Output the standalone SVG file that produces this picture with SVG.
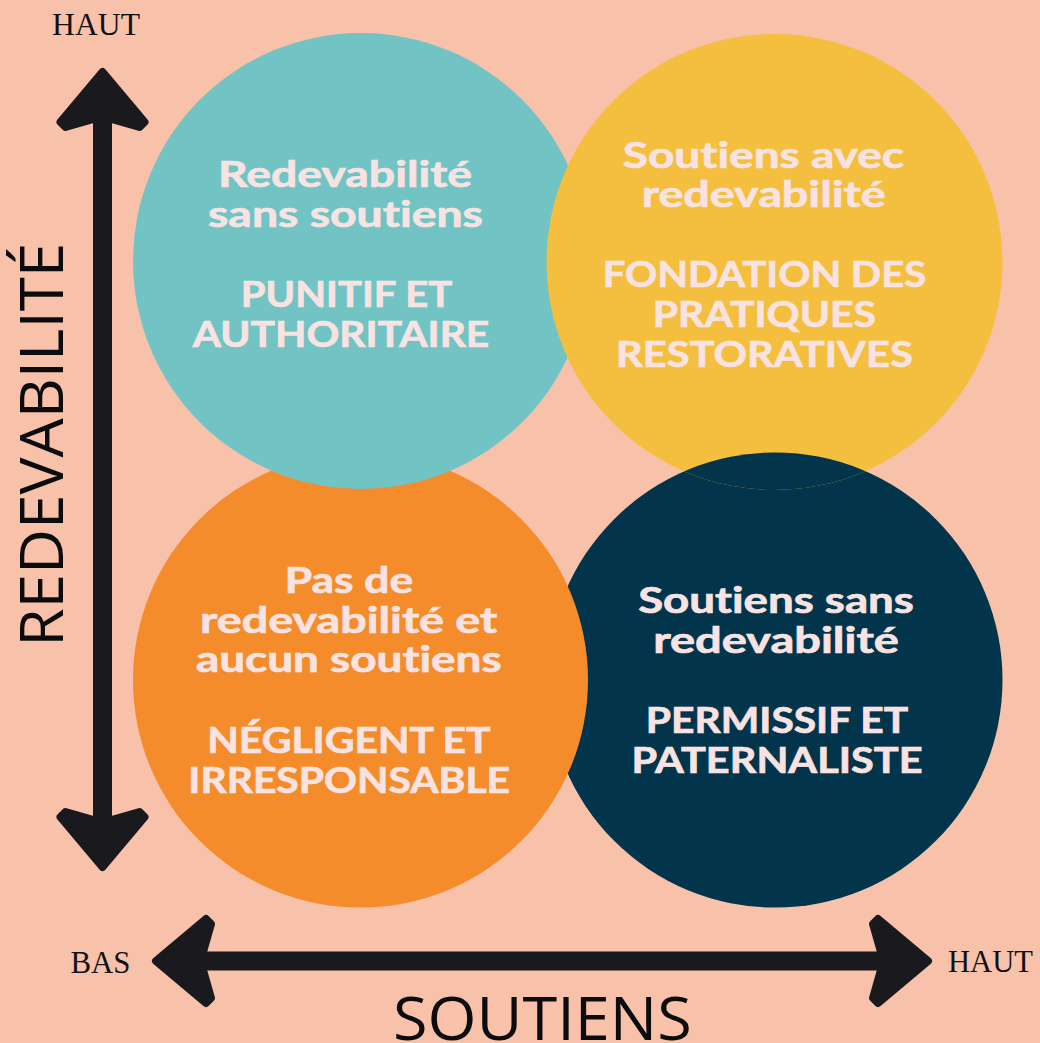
<svg xmlns="http://www.w3.org/2000/svg" width="1040" height="1043" viewBox="0 0 1040 1043">
  <style>
    .lbl { font-family: Lato, "Noto Sans", "DejaVu Sans", sans-serif; font-weight: 700; font-size: 35.5px; fill: #F8E3E2; stroke: #F8E3E2; stroke-width: 0.7px; text-anchor: middle; font-variant-ligatures: none; }
    .serif { font-family: "Liberation Serif", "DejaVu Serif", serif; font-size: 32px; fill: #111114; }
    .axis { font-family: "Open Sans", "Noto Sans", sans-serif; font-size: 60px; fill: #0c0c0e; }
    .arrow { fill: #1a1a1e; stroke: #1a1a1e; stroke-width: 8; stroke-linejoin: round; }
  </style>
  <defs>
    <clipPath id="clipYellow">
      <circle cx="774.5" cy="262" r="228"/>
    </clipPath>
  </defs>
  <rect width="1040" height="1043" fill="#F8C1A9"/>

  <g id="node-navy">
    <circle cx="775" cy="680" r="227.5" fill="#02344B"/>
    <text class="lbl" x="776" y="612.7" textLength="275.7" lengthAdjust="spacingAndGlyphs">Soutiens sans</text>
    <text class="lbl" x="776" y="652.7" textLength="245.7" lengthAdjust="spacingAndGlyphs">redevabilité</text>
    <text class="lbl" x="777" y="732.7" textLength="262.3" lengthAdjust="spacingAndGlyphs">PERMISSIF ET</text>
    <text class="lbl" x="777" y="772.7" textLength="291" lengthAdjust="spacingAndGlyphs">PATERNALISTE</text>
  </g>

  <g id="node-orange">
    <circle cx="360.5" cy="680" r="227.5" fill="#F48C2C"/>
    <text class="lbl" x="349" y="592.7" textLength="128.3" lengthAdjust="spacingAndGlyphs">Pas de</text>
    <text class="lbl" x="348.7" y="633.3" textLength="297.3" lengthAdjust="spacingAndGlyphs">redevabilité et</text>
    <text class="lbl" x="348.8" y="672.3" textLength="305.7" lengthAdjust="spacingAndGlyphs">aucun soutiens</text>
    <text class="lbl" x="349" y="753.3" textLength="283.3" lengthAdjust="spacingAndGlyphs">NÉGLIGENT ET</text>
    <text class="lbl" x="349.2" y="792.7" textLength="321.7" lengthAdjust="spacingAndGlyphs">IRRESPONSABLE</text>
  </g>

  <g id="node-teal">
    <circle cx="361" cy="261" r="228" fill="#71C3C4"/>
    <text class="lbl" x="345" y="186.7" textLength="254" lengthAdjust="spacingAndGlyphs">Redevabilité</text>
    <text class="lbl" x="345.5" y="227" textLength="275" lengthAdjust="spacingAndGlyphs">sans soutiens</text>
    <text class="lbl" x="346.5" y="307" textLength="211.6" lengthAdjust="spacingAndGlyphs">PUNITIF ET</text>
    <text class="lbl" x="341" y="347" textLength="296.6" lengthAdjust="spacingAndGlyphs">AUTHORITAIRE</text>
  </g>

  <g id="node-yellow">
    <circle cx="774.5" cy="262" r="228" fill="#F4BE3E"/>
    <text class="lbl" x="763.4" y="167.7" textLength="281.3" lengthAdjust="spacingAndGlyphs">Soutiens avec</text>
    <text class="lbl" x="763.7" y="206.7" textLength="244" lengthAdjust="spacingAndGlyphs">redevabilité</text>
    <text class="lbl" x="764.4" y="286.7" textLength="323.3" lengthAdjust="spacingAndGlyphs">FONDATION DES</text>
    <text class="lbl" x="764.4" y="326.7" textLength="223.3" lengthAdjust="spacingAndGlyphs">PRATIQUES</text>
    <text class="lbl" x="764.4" y="366.7" textLength="296.7" lengthAdjust="spacingAndGlyphs">RESTORATIVES</text>
  </g>

  <g id="overlap-navy-over-yellow">
    <circle cx="775" cy="680" r="227.5" fill="#02344B" clip-path="url(#clipYellow)"/>
  </g>

  <g id="connectors">
    <path class="arrow" d="M102.5,72 L144.5,122 L139.5,127 L108,118 L108,821 L139.5,812 L144.5,817 L102.5,867 L60.5,817 L65.5,812 L97,821 L97,118 L65.5,127 L60.5,122 Z"/>
    <path class="arrow" d="M156,961 L206,919 L211,924 L202,955.5 L882,955.5 L873,924 L878,919 L928,961 L878,1003 L873,998 L882,966.5 L202,966.5 L211,998 L206,1003 Z"/>
  </g>

  <g id="axis-labels">
    <text class="serif" x="52" y="35" textLength="88" lengthAdjust="spacingAndGlyphs">HAUT</text>
    <text class="serif" x="70.5" y="972.5" textLength="60" lengthAdjust="spacingAndGlyphs">BAS</text>
    <text class="serif" x="948" y="971.7" textLength="85" lengthAdjust="spacingAndGlyphs">HAUT</text>
    <text class="axis" transform="translate(62.7,646.7) rotate(-90)" textLength="404" lengthAdjust="spacingAndGlyphs">REDEVABILITÉ</text>
    <text class="axis" x="393" y="1039.5" textLength="298.7" lengthAdjust="spacingAndGlyphs">SOUTIENS</text>
  </g>
</svg>
